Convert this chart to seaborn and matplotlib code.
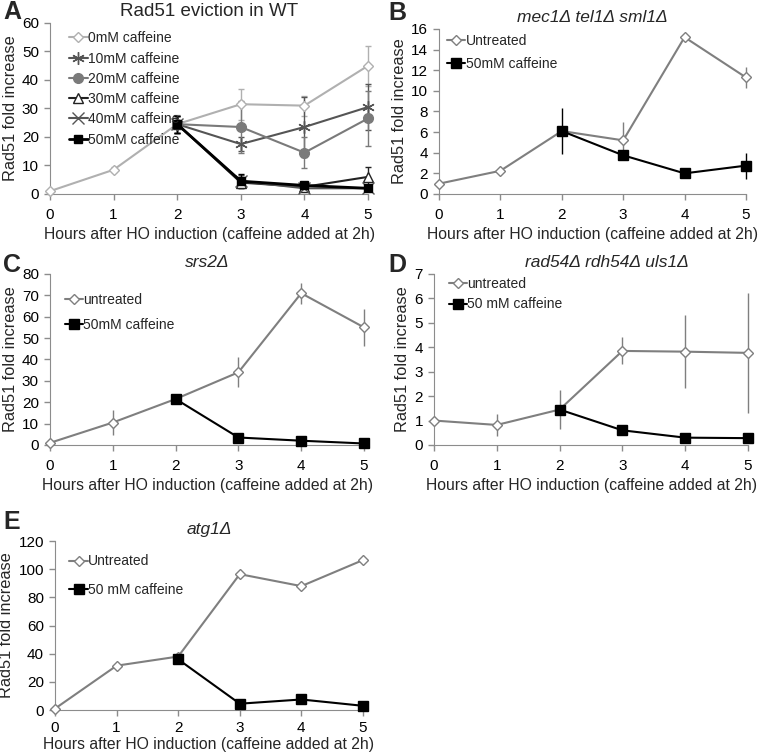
import matplotlib
matplotlib.use("Agg")
import matplotlib.pyplot as plt
import seaborn as sns
import numpy as np
import pandas as pd

# ==========================
# DATA
# ==========================
hours = [0, 1, 2, 3, 4, 5]
hours_caf = [2, 3, 4, 5]

# panel A (WT)
wt_0mm = [1, 8.5, 24.5, 31.5, 31, 45]
wt_0mm_err = [0, 0.8, 3.2, 5.5, 3.5, 7]
wt_10mm = [24.5, 17.5, 23.5, 30.5]
wt_10mm_err = [3, 2.5, 10.5, 8]
wt_20mm = [24.5, 23.5, 14.5, 26.5]
wt_20mm_err = [3, 9, 5.5, 9.5]
wt_30mm = [24.5, 4, 2.5, 6]
wt_30mm_err = [3, 2, 0.8, 3.5]
wt_40mm = [24.5, 4.5, 2, 2]
wt_40mm_err = [3, 2, 0.8, 0.8]
wt_50mm = [24.5, 4.5, 3, 2]
wt_50mm_err = [3, 2.5, 1, 0.5]

# panel B (mec1 tel1 sml1)
b_untr = [1, 2.25, 6.1, 5.2, 15.2, 11.3]
b_untr_err = [0, 0, 0, 1.8, 0, 1]
b_caf = [6.1, 3.75, 2, 2.75]
b_caf_err = [2.2, 0.5, 0, 1.25]

# panel C (srs2)
c_untr = [1, 10.5, 21.5, 34, 71, 55]
c_untr_err = [0, 6, 0, 7, 5, 8.5]
c_caf = [21.5, 3.5, 2, 0.7]
c_caf_err = [0, 2, 0, 0]

# panel D (rad54 rdh54 uls1)
d_untr = [1, 0.82, 1.45, 3.85, 3.82, 3.77]
d_untr_err = [0, 0.45, 0.8, 0.55, 1.5, 2.45]
d_caf = [1.45, 0.6, 0.3, 0.28]
d_caf_err = [0, 0, 0, 0]

# panel E (atg1)
e_untr = [1, 31.5, 38, 96.5, 88, 106.5]
e_caf = [36, 4.5, 7.5, 3]

XLABEL = "Hours after HO induction (caffeine added at 2h)"
YLABEL = "Rad51 fold increase"

# ==========================
# STYLE
# ==========================
sns.set_style("ticks")
plt.rcParams['font.family'] = ['Liberation Sans', 'DejaVu Sans']
plt.rcParams['axes.edgecolor'] = '#8c8c8c'
plt.rcParams['xtick.color'] = '#8c8c8c'
plt.rcParams['ytick.color'] = '#8c8c8c'
plt.rcParams['xtick.labelcolor'] = 'black'
plt.rcParams['ytick.labelcolor'] = 'black'

fig = plt.figure(figsize=(7.68, 7.56), dpi=100)

UNTR = '#7f7f7f'


def draw(ax, x, y, err, color, marker, label, ms=6, mfc=None, lw=1.5, cap=0, mew=1.0):
    sns.lineplot(x=x, y=y, ax=ax, color=color, marker=marker, markersize=ms,
                 markerfacecolor=mfc if mfc else color, markeredgecolor=color,
                 markeredgewidth=mew, linewidth=lw, label=label, clip_on=False, zorder=3)
    if err is not None:
        ax.errorbar(x, y, yerr=err, fmt='none', ecolor=color, elinewidth=1,
                    capsize=cap, capthick=1, zorder=2, clip_on=False)


def finish(ax, ymax, ystep, title, italic=True, leg_y=1.0, leg_x=0.0, spacing=0.6, tx=0.5,
           tsize=12.5, xpad=6, lpad=4):
    ax.set_xlim(0, 5)
    ax.set_ylim(0, ymax)
    ax.set_xticks(hours)
    ax.set_yticks(np.arange(0, ymax + ystep / 2, ystep))
    ax.tick_params(labelsize=11, length=4, width=1)
    ax.tick_params(axis='x', pad=xpad)
    ax.tick_params(axis='y', pad=4)
    ax.set_xlabel(XLABEL, fontsize=11.3, labelpad=lpad)
    ax.set_ylabel(YLABEL, fontsize=11.8, labelpad=3)
    sns.despine(ax=ax)
    ax.set_title(title, fontsize=tsize, style='italic' if italic else 'normal', pad=5, x=tx)
    ax.legend(loc='upper left', bbox_to_anchor=(leg_x, leg_y), frameon=False,
              fontsize=10, handlelength=1.3, handletextpad=0.05,
              labelspacing=spacing, borderaxespad=0.2)


def letter(x, y, s):
    fig.text(x / 768, 1 - y / 756, s, fontsize=18, fontweight='bold', ha='left', va='center')


# ==========================
# PANEL A
# ==========================
axA = fig.add_axes([0.0651, 0.7434, 0.4141, 0.2262])
draw(axA, hours, wt_0mm, wt_0mm_err, '#b0b0b0', 'D', '0mM caffeine', ms=5, mfc='white', cap=2.5)
draw(axA, hours_caf, wt_10mm, wt_10mm_err, '#555555', (6, 2, 0), '10mM caffeine', ms=9, cap=2.5)
draw(axA, hours_caf, wt_20mm, wt_20mm_err, '#7a7a7a', 'o', '20mM caffeine', ms=7, cap=2.5)
draw(axA, hours_caf, wt_30mm, wt_30mm_err, '#222222', '^', '30mM caffeine', ms=7, mfc='white', cap=2.5)
draw(axA, hours_caf, wt_40mm, wt_40mm_err, '#555555', 'x', '40mM caffeine', ms=8, cap=2.5)
draw(axA, hours_caf, wt_50mm, wt_50mm_err, '#000000', 's', '50mM caffeine', ms=5.5, cap=2.5, lw=2)
finish(axA, 60, 10, "Rad51 eviction in WT", italic=False, leg_y=1.0, leg_x=0.035,
       spacing=0.45, tsize=13.5)
letter(3, 12, "A")

# ==========================
# PANEL B
# ==========================
axB = fig.add_axes([0.5716, 0.7434, 0.3997, 0.2183])
draw(axB, hours, b_untr, b_untr_err, UNTR, 'D', 'Untreated', ms=5, mfc='white')
draw(axB, hours_caf, b_caf, b_caf_err, '#000000', 's', '50mM caffeine', ms=7)
finish(axB, 16, 2, "mec1\u0394 tel1\u0394 sml1\u0394", leg_y=1.02, leg_x=0.0, spacing=0.65)
letter(388, 13, "B")

# ==========================
# PANEL C
# ==========================
axC = fig.add_axes([0.0651, 0.4114, 0.4089, 0.2262])
draw(axC, hours, c_untr, c_untr_err, UNTR, 'D', 'untreated', ms=5, mfc='white')
draw(axC, hours_caf, c_caf, c_caf_err, '#000000', 's', '50mM caffeine', ms=7)
finish(axC, 80, 10, "srs2\u0394", leg_y=0.94, leg_x=0.02, spacing=0.8)
letter(3, 265, "C")

# ==========================
# PANEL D
# ==========================
axD = fig.add_axes([0.5651, 0.4114, 0.4089, 0.2262])
draw(axD, hours, d_untr, d_untr_err, UNTR, 'D', 'untreated', ms=5, mfc='white')
draw(axD, hours_caf, d_caf, d_caf_err, '#000000', 's', '50 mM caffeine', ms=7)
finish(axD, 7, 1, "rad54\u0394 rdh54\u0394 uls1\u0394", leg_y=1.03, leg_x=0.02, spacing=0.45, tx=0.55)
letter(388, 265, "D")

# ==========================
# PANEL E
# ==========================
axE = fig.add_axes([0.0716, 0.0608, 0.401, 0.2235])
draw(axE, hours, e_untr, None, UNTR, 'D', 'Untreated', ms=5, mfc='white')
draw(axE, hours_caf, e_caf, None, '#000000', 's', '50 mM caffeine', ms=7)
finish(axE, 120, 20, "atg1\u0394", leg_y=0.97, leg_x=0.02, spacing=1.05, xpad=4, lpad=1)
letter(3, 522, "E")

fig.savefig("out.png", dpi=100)
